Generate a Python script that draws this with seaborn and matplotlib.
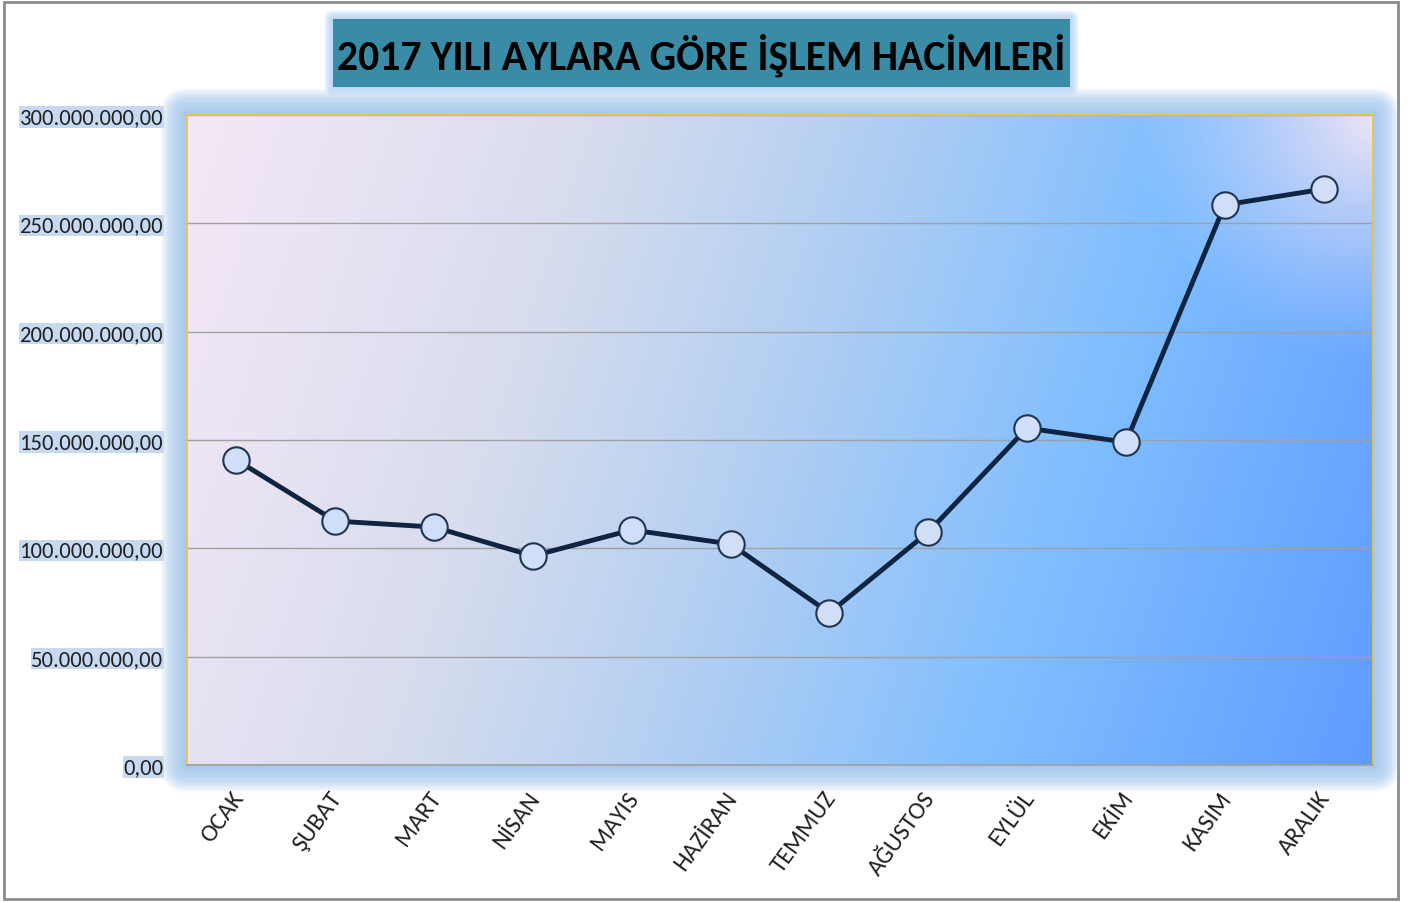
import numpy as np
import pandas as pd
import matplotlib
matplotlib.use("Agg")
import matplotlib.pyplot as plt
import seaborn as sns
from matplotlib import font_manager
from matplotlib.patches import FancyBboxPatch, Rectangle
from matplotlib.ticker import FuncFormatter, MultipleLocator
import matplotlib.transforms as mtransforms

# ---- data ----
months = ["OCAK", "ŞUBAT", "MART", "NİSAN", "MAYIS", "HAZİRAN",
          "TEMMUZ", "AĞUSTOS", "EYLÜL", "EKİM", "KASIM", "ARALIK"]
volumes = [140.8e6, 112.6e6, 109.8e6, 96.5e6, 108.5e6, 102.0e6,
           70.2e6, 107.5e6, 155.5e6, 149.0e6, 258.5e6, 265.8e6]
title = "2017 YILI AYLARA GÖRE İŞLEM HACİMLERİ"

sns.set_theme(style="white")


def pick(cands):
    for name in cands:
        try:
            font_manager.findfont(font_manager.FontProperties(family=name),
                                  fallback_to_default=False)
            return name
        except Exception:
            pass
    return "Open Sans"


main_font = pick(["Carlito", "Open Sans"])
calibri = main_font == "Carlito"
plt.rcParams['font.family'] = [main_font, 'DejaVu Sans']
tick_fs = 16.3 if calibri else 14.3
xtick_fs = 17.8 if calibri else 15.5
title_fs = 30 if calibri else 25

W, H = 1409, 903
fig = plt.figure(figsize=(W / 100, H / 100), dpi=100)

bg = fig.add_axes([0, 0, 1, 1], zorder=-10)
bg.set_xlim(0, W)
bg.set_ylim(H, 0)
bg.axis("off")

bg.add_patch(Rectangle((4, 3), 1394, 897, fill=False, edgecolor="#8C8C8C", lw=2))

ax_l, ax_r, ax_t, ax_b = 187, 1373, 116, 766
for k in range(13):
    pad = 2 + 2 * k
    bg.add_patch(FancyBboxPatch((ax_l, ax_t), ax_r - ax_l, ax_b - ax_t,
                                boxstyle=f"round,pad={pad},rounding_size={pad}",
                                facecolor="#9CC2EE", edgecolor="none", alpha=0.13))

t_l, t_r, t_t, t_b = 333, 1070, 20, 88
for k in range(6):
    pad = 1 + 1.5 * k
    bg.add_patch(FancyBboxPatch((t_l, t_t), t_r - t_l, t_b - t_t,
                                boxstyle=f"round,pad={pad},rounding_size={pad}",
                                facecolor="#A9CCF2", edgecolor="none", alpha=0.2))
bg.add_patch(Rectangle((t_l, t_t), t_r - t_l, t_b - t_t, facecolor="#398BA6", edgecolor="none"))
bg.text((t_l + t_r) / 2, (t_t + t_b) / 2 + 1, title, ha="center", va="center",
        fontsize=title_fs, fontweight="bold", color="black")

ax = fig.add_axes([ax_l / W, 1 - ax_b / H, (ax_r - ax_l) / W, (ax_b - ax_t) / H], zorder=1)

# gradient background
gh, gw = 200, 400
u = np.linspace(0, 1, gw)[None, :].repeat(gh, 0)
v = np.linspace(0, 1, gh)[:, None].repeat(gw, 1)
t = np.clip(u * 0.85 + v * 0.15, 0, 1)
stops = np.array([0.0, 0.3, 0.5, 0.72, 1.0])
cols = np.array([[246, 232, 246], [214, 220, 238], [176, 206, 242],
                 [128, 190, 255], [94, 156, 255]]) / 255.0
img = np.stack([np.interp(t, stops, cols[:, c]) for c in range(3)], axis=-1)
w = np.clip(1 - np.sqrt(((1 - u) / 0.2) ** 2 + (v / 0.38) ** 2), 0, 1) ** 1.2
pink = np.array([236, 228, 244]) / 255.0
img = img * (1 - w[..., None]) + pink * w[..., None]
ax.imshow(img, extent=(-0.5, 11.5, 0, 300e6), aspect="auto", zorder=0,
          interpolation="bilinear")

df = pd.DataFrame({"month": months, "volume": volumes})
sns.lineplot(data=df, x="month", y="volume", sort=False, ax=ax,
             color="#0F2440", lw=3.5, marker="o", markersize=19,
             markerfacecolor="#D0DEF8", markeredgecolor="#1F3550",
             markeredgewidth=1.5, zorder=3)

ax.set_xlim(-0.5, 11.5)
ax.set_ylim(0, 300e6)
ax.yaxis.set_major_locator(MultipleLocator(50e6))
ax.yaxis.set_major_formatter(FuncFormatter(
    lambda x, p: f"{x:,.2f}".replace(",", "X").replace(".", ",").replace("X", ".")))
ax.grid(axis="y", color="#A0A0A0", lw=1)
ax.grid(axis="x", visible=False)
ax.set_xlabel("")
ax.set_ylabel("")

for s in ["left", "right", "top"]:
    ax.spines[s].set_color("#F2C23A")
    ax.spines[s].set_linewidth(1.2)
ax.spines["bottom"].set_color("#A0A0A0")
ax.spines["bottom"].set_linewidth(1.2)

ax.tick_params(axis="y", length=0, pad=17, labelsize=tick_fs, labelcolor="#202020")
ax.tick_params(axis="x", length=0, pad=16, labelsize=xtick_fs, labelcolor="#202020")
for lab in ax.get_yticklabels():
    lab.set_bbox(dict(facecolor="#C6D9F1", edgecolor="none", pad=0.5))
shift = mtransforms.ScaledTranslation(-6 / 100, 0, fig.dpi_scale_trans)
for lab in ax.get_xticklabels():
    lab.set_rotation(54)
    lab.set_ha("right")
    lab.set_va("top")
    lab.set_rotation_mode("anchor")
    lab.set_transform(lab.get_transform() + shift)

fig.savefig("out.png", dpi=100)
